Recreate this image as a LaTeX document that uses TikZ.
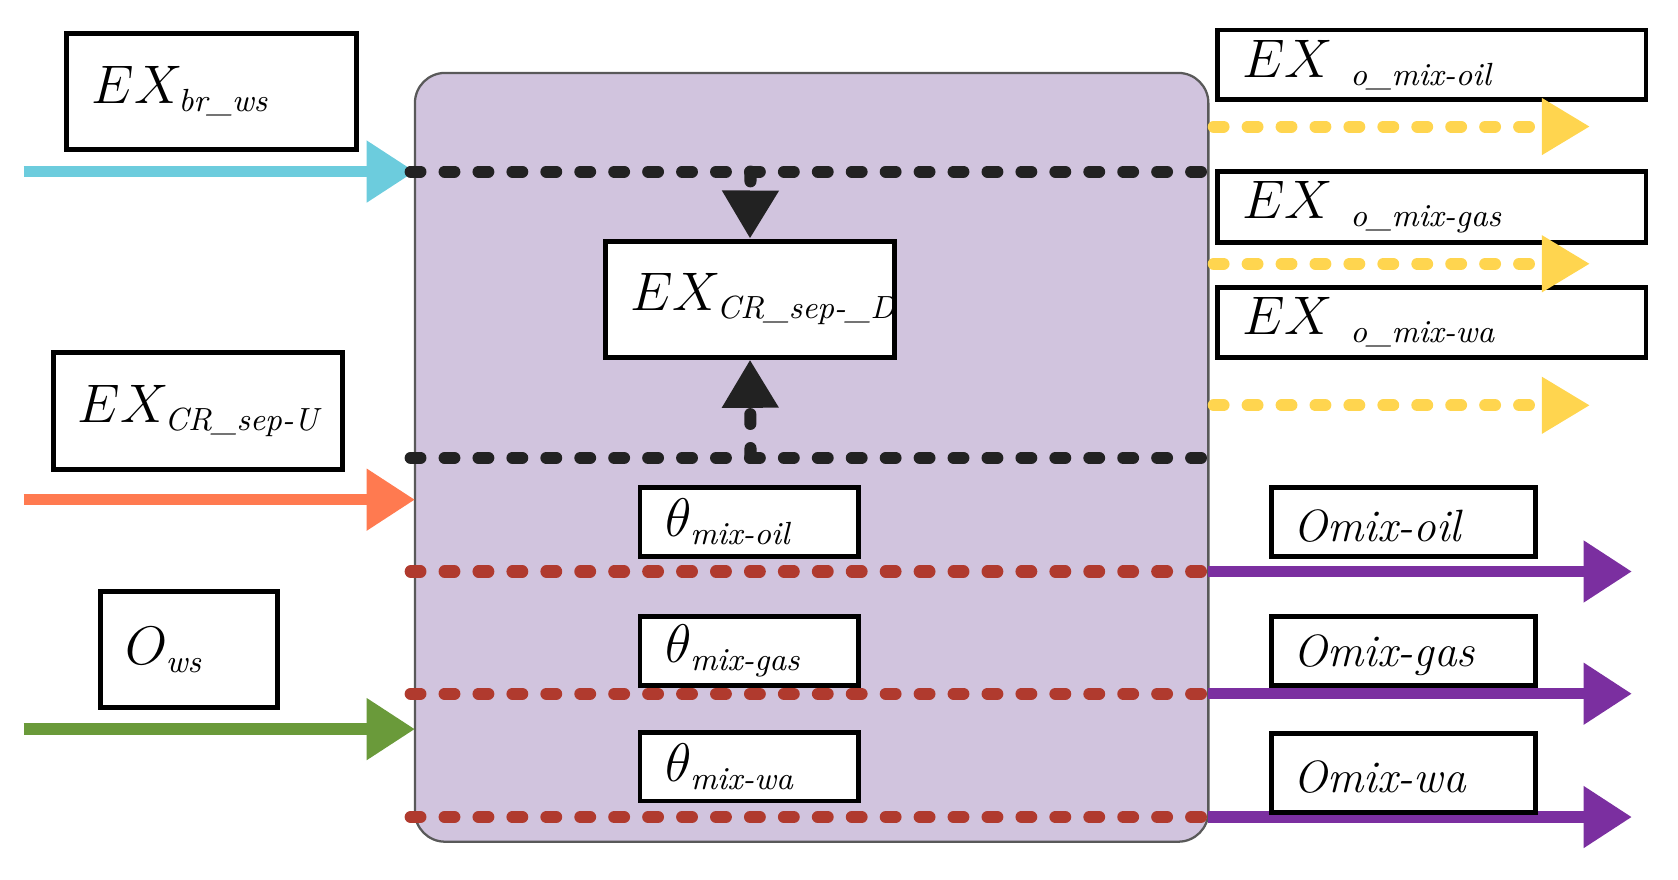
\documentclass[tikz,border=0pt]{standalone}
\usepackage{amsmath}
\usetikzlibrary{arrows.meta}
\newcommand{\st}[1]{\mbox{\fontsize{8.5}{10}\selectfont\itshape #1}}
\begin{document}
\begin{tikzpicture}[x=0.01cm,y=-0.01cm,
  box/.style={draw=black,line width=1.3pt,fill=white,minimum width=#1,inner sep=0pt},
  lab/.style={anchor=west,inner sep=0pt,font=\fontsize{15}{17}\selectfont},
  slab/.style={anchor=west,inner sep=0pt,font=\fontsize{12}{14}\selectfont\itshape},
  arr/.style={line width=3pt,-{Triangle[length=0.45cm,width=0.55cm]}},
  dsh/.style={line width=3.2pt,line cap=round,dash pattern=on 2.6pt off 6.4pt},
  ]
\definecolor{pbg}{HTML}{D1C4DE}
\definecolor{cy}{HTML}{6CCCDD}
\definecolor{org}{HTML}{FF7A50}
\definecolor{grn}{HTML}{6A9A3A}
\definecolor{yel}{HTML}{FFD54F}
\definecolor{rd}{HTML}{B03A2E}
\definecolor{pur}{HTML}{7B2FA0}
\definecolor{blk}{HTML}{222222}
\useasboundingbox (0,0) rectangle (1565,820);
% main block
\draw[fill=pbg,draw=gray!70!black,line width=0.6pt,rounded corners=0.28cm] (387,68) rectangle (1127,785);
\coordinate (M1) at (387,160);
\coordinate (M2) at (387,466);
\coordinate (M3) at (387,680);
% left boxes
\node[box=2.7cm,minimum height=1.08cm] (bws) at (197,85) {};
\node[lab] (tbws) at (85,85) {$EX_{\st{br\_ws}}$};
\node[box=2.69cm,minimum height=1.09cm] (bU) at (184.5,383.5) {};
\node[lab] (tU) at (72,383.5) {$EX_{\st{CR\_sep-U}}$};
\node[box=1.65cm,minimum height=1.08cm] (bO) at (176.5,606) {};
\node[lab] (tO) at (116,606) {$O_{\st{ws}}$};
\coordinate (L1) at (22,160);
\coordinate (L2) at (22,466);
\coordinate (L3) at (22,680);
\draw[arr,cy] (L1) -- (M1);
\draw[arr,org] (L2) -- (M2);
\draw[arr,grn] (L3) -- (M3);
% center box
\node[box=2.69cm,minimum height=1.08cm] (bD) at (699.5,279) {};
\node[lab] (tD) at (587,279) {$EX_{\st{CR\_sep-\_D}}$};
% black dashed
\coordinate (K1a) at (383,160); \coordinate (K1b) at (1130,160);
\coordinate (K2a) at (383,427); \coordinate (K2b) at (1130,427);
\draw[dsh,blk] (K1a) -- (K1b);
\draw[dsh,blk] (K2a) -- (K2b);
\coordinate (V1) at (700,160); \coordinate (V2) at (700,427);
\draw[dsh,blk,-{Triangle[length=0.45cm,width=0.5cm]}] (V1) -- (bD.north);
\draw[dsh,blk,-{Triangle[length=0.45cm,width=0.5cm]}] (V2) -- (bD.south);
% theta boxes
\node[box=2.04cm,minimum height=0.64cm] (th1) at (699,487) {};
\node[lab] (tth1) at (620,487) {$\theta_{\st{mix-oil}}$};
\node[box=2.04cm,minimum height=0.64cm] (th2) at (699,607) {};
\node[lab] (tth2) at (620,607) {$\theta_{\st{mix-gas}}$};
\node[box=2.04cm,minimum height=0.64cm] (th3) at (699,715) {};
\node[lab] (tth3) at (620,715) {$\theta_{\st{mix-wa}}$};
% red dashed + purple arrows
\foreach \i/\y in {1/533,2/647,3/762}{
  \coordinate (Ra\i) at (383,\y);
  \coordinate (Rb\i) at (1127,\y);
  \coordinate (Pe\i) at (1522,\y);
  \draw[arr,pur] (Rb\i) -- (Pe\i);
  \draw[dsh,rd] (Ra\i) -- (Rb\i);
}
% right O boxes
\node[box=2.46cm,minimum height=0.64cm] (o1) at (1309,487) {};
\node[slab] (to1) at (1206,491) {Omix-oil};
\node[box=2.46cm,minimum height=0.64cm] (o2) at (1309,607) {};
\node[slab] (to2) at (1206,611) {Omix-gas};
\node[box=2.46cm,minimum height=0.74cm] (o3) at (1309,721) {};
\node[slab] (to3) at (1206,725) {Omix-wa};
% EX o boxes
\node[box=3.99cm,minimum height=0.65cm] (e1) at (1335.5,60.5) {};
\node[lab] (te1) at (1158,60.5) {$EX\ _{\st{o\_mix-oil}}$};
\node[box=3.99cm,minimum height=0.66cm] (e2) at (1335.5,193) {};
\node[lab] (te2) at (1158,193) {$EX\ _{\st{o\_mix-gas}}$};
\node[box=3.99cm,minimum height=0.65cm] (e3) at (1335.5,300.5) {};
\node[lab] (te3) at (1158,300.5) {$EX\ _{\st{o\_mix-wa}}$};
% yellow dashed arrows
\foreach \i/\y in {1/118,2/246,3/378}{
  \coordinate (Ya\i) at (1132,\y);
  \coordinate (Yb\i) at (1483,\y);
  \draw[dsh,yel,-{Triangle[length=0.45cm,width=0.5cm]}] (Ya\i) -- (Yb\i);
}
\end{tikzpicture}
\end{document}
